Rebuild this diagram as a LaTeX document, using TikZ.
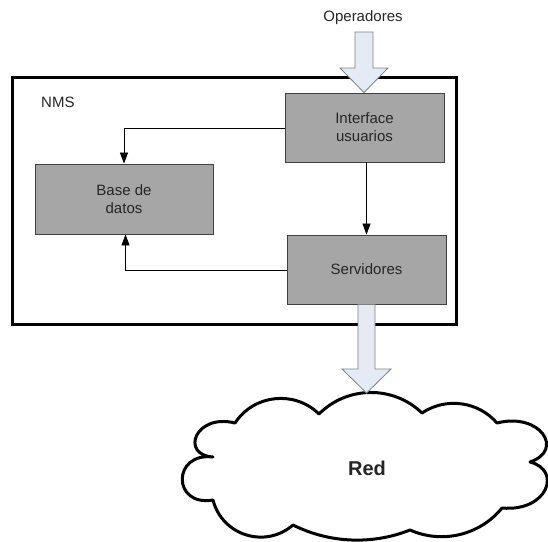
\documentclass[tikz,border=0pt]{standalone}
\usepackage{fontspec}
\setmainfont{Liberation Sans}
\usetikzlibrary{arrows.meta}

\definecolor{boxfill}{HTML}{A6A6A6}
\definecolor{boxline}{HTML}{404040}
\definecolor{blockfill}{HTML}{E4EBF5}
\definecolor{blockline}{HTML}{7F7F7F}
\definecolor{txt}{HTML}{262626}

\tikzset{
  module/.style={draw=boxline, fill=boxfill, line width=0.9pt,
    text=txt, align=center, inner sep=0pt,
    font=\fontsize{15}{18}\selectfont},
  label text/.style={text=txt, inner sep=0pt,
    font=\fontsize{15}{18}\selectfont},
  link/.style={draw=black, line width=0.8pt,
    -{Triangle[length=11pt,width=8pt]}},
  blockarrow/.style={draw=blockline, fill=blockfill, line width=0.8pt,
    line join=miter},
  cloudline/.style={draw=black, fill=white, line width=3pt, line join=round},
}

\begin{document}
\begin{tikzpicture}[x=1pt, y=-1pt]
\useasboundingbox (0,0) rectangle (548,541);

% system frame
\node[draw=black, line width=3pt, minimum width=444pt, minimum height=247pt,
      inner sep=0pt] (nms) at (234,200.5) {};
\node[label text, anchor=west] (nmslabel) at (41,102) {NMS};

% modules
\node[module, minimum width=159pt, minimum height=69pt] (ifc) at (364.5,127.5)
  {Interface\\usuarios};
\node[module, minimum width=159pt, minimum height=69pt] (srv) at (366.5,269.5)
  {Servidores};
\node[module, minimum width=178pt, minimum height=70pt] (base) at (124,199)
  {Base de\\datos};

% internal links
\draw[link] (ifc.west |- 0,128) -| (base.north);
\draw[link] (srv.west |- 0,270) -| ([xshift=1.5pt]base.south);
\draw[link] (ifc.south -| srv.north) -- (srv.north);

% network cloud
\draw[cloudline] (319,414)
  to[bend left=44.6, looseness=0.99] (422,413)
  to[bend left=41.6, looseness=0.97] (497,423)
  .. controls (540,412) and (565,450) .. (530,462)
  .. controls (562,470) and (548,512) .. (502,508)
  to[bend left=37.3, looseness=0.95] (410,530)
  to[bend left=24.1, looseness=0.89] (293,525)
  to[bend left=58.3, looseness=1.12] (213,500)
  .. controls (172,507) and (172,452) .. (213,457)
  .. controls (180,455) and (195,413) .. (235,423)
  to[bend left=50.6, looseness=1.04] (319,414) -- cycle;
\node[text=txt, font=\fontsize{20}{24}\selectfont\bfseries] (red) at (367,468) {Red};
\coordinate (cloudtop) at (366.5,393);

% operators entering the system
\node[label text] (ops) at (363,18) {Operadores};
\coordinate (opstip) at (ifc.north -| 364,0);
\draw[blockarrow] (355,32) -- (373,32) -- (373,68) -- (388,68) -- (opstip)
  -- (340,68) -- (355,68) -- cycle;

% servers reaching the network
\draw[blockarrow] (srv.south -| 358,0) -- (srv.south -| 375,0) -- (375,369)
  -- (391,369) -- (cloudtop) -- (342,369) -- (358,369) -- cycle;
\end{tikzpicture}
\end{document}
